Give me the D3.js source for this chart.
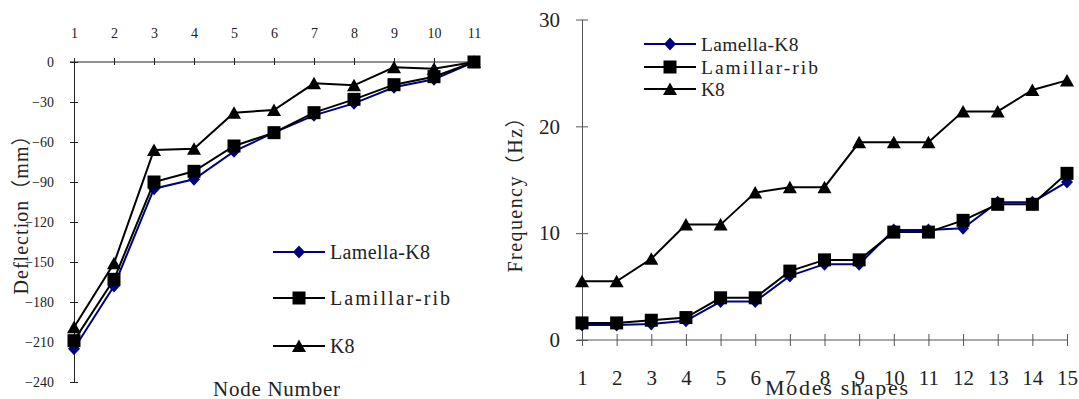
<!DOCTYPE html>
<html>
<head>
<meta charset="utf-8">
<script src="https://cdn.jsdelivr.net/npm/d3@7"></script>
<style>
  body { margin: 0; background: #fff; }
  svg { display: block; }
</style>
</head>
<body>
<svg id="chart" width="1079" height="399"></svg>
<script>
// series names (same in both panels)
const seriesNames = ["Lamella-K8", "Lamillar-rib", "K8"];

// left panel: deflection per node
const nodes = [1, 2, 3, 4, 5, 6, 7, 8, 9, 10, 11];
const deflLamella = [-215, -168, -95, -88, -67, -53, -40, -31, -19, -13, 0];
const deflLamillar = [-209, -163, -90, -82, -63, -53, -38, -28, -17, -11, 0];
const deflK8 = [-199, -151, -66, -65, -38, -36, -16, -17.5, -4, -5, 0];
const deflTicks = [0, -30, -60, -90, -120, -150, -180, -210, -240];

// right panel: frequency per mode shape
const modes = [1, 2, 3, 4, 5, 6, 7, 8, 9, 10, 11, 12, 13, 14, 15];
const freqLamella = [1.4, 1.4, 1.5, 1.8, 3.6, 3.6, 6.0, 7.1, 7.1, 10.3, 10.3, 10.45, 12.9, 12.9, 14.8];
const freqLamillar = [1.6, 1.6, 1.85, 2.1, 3.95, 3.95, 6.45, 7.5, 7.5, 10.1, 10.1, 11.2, 12.7, 12.7, 15.6];
const freqK8 = [5.5, 5.5, 7.6, 10.8, 10.8, 13.8, 14.3, 14.3, 18.5, 18.5, 18.5, 21.4, 21.4, 23.4, 24.3];
const freqTicks = [0, 10, 20, 30];

const svg = d3.select("#chart");
const serif = "'Liberation Serif', 'Noto Sans CJK SC', serif";
const colors = ["#000080", "#000", "#000"];

// marker shapes: diamond, square, triangle
function markerPath(kind) {
    if (kind === 0) return "M0,-6.5L6,0L0,6.5L-6,0Z";
    if (kind === 1) return "M-6.5,-6.5H6.5V6.5H-6.5Z";
    return "M0,-6.5L7,6L-7,6Z";
}

function drawSeries(g, xs, ys, x, y, kind) {
    let pts = xs.map((d, i) => [d, ys[i]]);
    g.append("path")
        .datum(pts)
        .attr("fill", "none")
        .attr("stroke", colors[kind])
        .attr("stroke-width", 2)
        .attr("d", d3.line().x(d => x(d[0])).y(d => y(d[1])));
    g.selectAll(null)
        .data(pts)
        .enter()
        .append("path")
        .attr("d", markerPath(kind))
        .attr("transform", d => `translate(${x(d[0])},${y(d[1])})`)
        .attr("fill", colors[kind]);
}

// widen a text to a target width (monospaced look), never squeeze it
function spreadTo(t, w) {
    if (t.node().getComputedTextLength() < w)
        t.attr("textLength", w).attr("lengthAdjust", "spacing");
}

function legendRow(g, x0, x1, yy, kind, label, fs) {
    g.append("line")
        .attr("x1", x0).attr("x2", x1).attr("y1", yy).attr("y2", yy)
        .attr("stroke", colors[kind]).attr("stroke-width", 2);
    g.append("path")
        .attr("d", markerPath(kind))
        .attr("transform", `translate(${(x0 + x1) / 2},${yy})`)
        .attr("fill", colors[kind]);
    let t = g.append("text")
        .attr("x", x1 + 5).attr("y", yy)
        .attr("dy", "0.35em")
        .attr("font-family", serif)
        .attr("font-size", fs)
        .attr("fill", "#222")
        .text(label);
    spreadTo(t, label.length * fs * 0.5);
}

// ---------- left panel ----------
const xL = d3.scaleLinear().domain([1, 11]).range([74, 474]);
const yL = d3.scaleLinear().domain([-240, 0]).range([382, 62]);
const left = svg.append("g");

let yAxisL = left.append("g")
    .attr("transform", "translate(74,0)")
    .call(d3.axisLeft(yL).tickValues(deflTicks).tickSize(4).tickPadding(16).tickSizeOuter(0));
yAxisL.select(".domain").attr("stroke", "#222");
yAxisL.selectAll(".tick line").attr("x1", -4).attr("x2", 4).attr("stroke", "#222");
yAxisL.selectAll("text").attr("font-family", serif).attr("font-size", 14).attr("fill", "#222");

left.append("line")
    .attr("x1", 70).attr("x2", xL(11)).attr("y1", yL(0)).attr("y2", yL(0))
    .attr("stroke", "#222");
let xAxisL = left.append("g")
    .attr("transform", `translate(0,${yL(0)})`)
    .call(d3.axisTop(xL).tickValues(nodes).tickFormat(d3.format("d")).tickSize(4).tickPadding(20).tickSizeOuter(0));
xAxisL.select(".domain").remove();
xAxisL.selectAll(".tick line").attr("y1", -4).attr("y2", 3).attr("stroke", "#222");
xAxisL.selectAll("text").attr("font-family", serif).attr("font-size", 14).attr("fill", "#222");

drawSeries(left, nodes, deflLamella, xL, yL, 0);
drawSeries(left, nodes, deflLamillar, xL, yL, 1);
drawSeries(left, nodes, deflK8, xL, yL, 2);

[252, 298, 346].forEach((yy, i) => legendRow(left, 273, 325, yy, i, seriesNames[i], 20));

let tYL = left.append("text")
    .attr("transform", "translate(28,210) rotate(-90)")
    .attr("text-anchor", "middle")
    .attr("font-family", serif).attr("font-size", 20).attr("fill", "#222")
    .text("Deflection（mm）");
spreadTo(tYL, 169);
let tXL = left.append("text")
    .attr("x", 213).attr("y", 396)
    .attr("font-family", serif).attr("font-size", 21).attr("fill", "#222")
    .text("Node Number");
spreadTo(tXL, 127);

// ---------- right panel ----------
const xR = d3.scaleLinear().domain([1, 15]).range([582, 1067]);
const yR = d3.scaleLinear().domain([0, 30]).range([340, 19.5]);
const right = svg.append("g");

let yAxisR = right.append("g")
    .attr("transform", "translate(582,0)")
    .call(d3.axisLeft(yR).tickValues(freqTicks).tickSize(6).tickPadding(16).tickSizeOuter(0));
yAxisR.select(".domain").attr("stroke", "#555");
yAxisR.selectAll(".tick line").attr("x1", -6).attr("x2", 6).attr("stroke", "#555");
yAxisR.selectAll("text").attr("font-family", serif).attr("font-size", 21).attr("fill", "#222");

right.append("line")
    .attr("x1", 577).attr("x2", xR(15)).attr("y1", yR(0)).attr("y2", yR(0))
    .attr("stroke", "#555");
let xAxisR = right.append("g")
    .attr("transform", `translate(0,${yR(0)})`)
    .call(d3.axisBottom(xR).tickValues(modes).tickFormat(d3.format("d")).tickSize(6).tickPadding(24).tickSizeOuter(0));
xAxisR.select(".domain").remove();
xAxisR.selectAll(".tick line").attr("y1", -6).attr("y2", 6).attr("stroke", "#555");
xAxisR.selectAll("text").attr("font-family", serif).attr("font-size", 21).attr("fill", "#222");

drawSeries(right, modes, freqLamella, xR, yR, 0);
drawSeries(right, modes, freqLamillar, xR, yR, 1);
drawSeries(right, modes, freqK8, xR, yR, 2);

[44, 67, 89].forEach((yy, i) => legendRow(right, 644, 696, yy, i, seriesNames[i], 19.5));

let tYR = right.append("text")
    .attr("transform", "translate(522,190) rotate(-90)")
    .attr("text-anchor", "middle")
    .attr("font-family", serif).attr("font-size", 20).attr("fill", "#222")
    .text("Frequency（Hz）");
spreadTo(tYR, 165);
let tXR = right.append("text")
    .attr("x", 765).attr("y", 395)
    .attr("font-family", serif).attr("font-size", 22).attr("fill", "#222")
    .text("Modes shapes");
spreadTo(tXR, 143);
</script>
</body>
</html>
